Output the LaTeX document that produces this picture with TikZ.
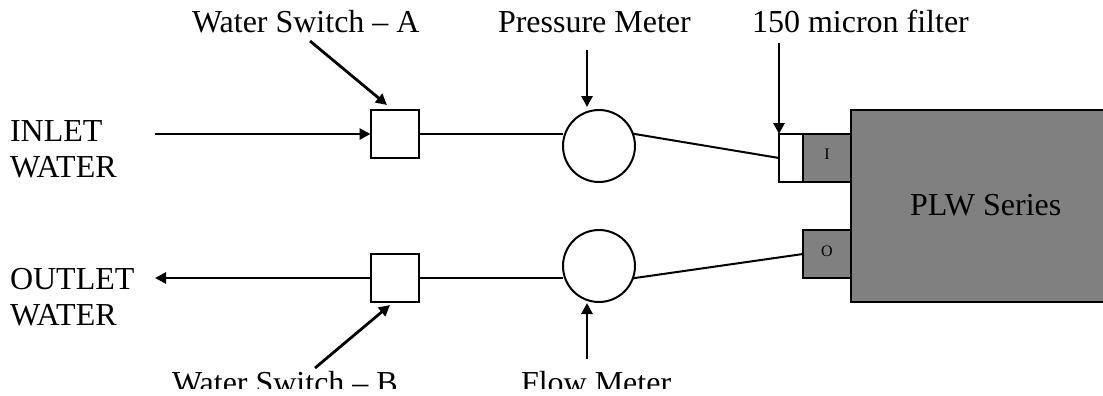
\documentclass[tikz,border=0pt]{standalone}
\usepackage{fontspec}
\setmainfont{Liberation Serif}
\usetikzlibrary{arrows.meta}
\definecolor{gray50}{RGB}{128,128,128}
\tikzset{
  every node/.style={inner sep=0pt,outer sep=0pt},
  lbl/.style={font=\fontsize{32}{38}\selectfont,anchor=base west},
  tiny/.style={font=\fontsize{16}{19}\selectfont,anchor=base},
  boxw/.style={draw=black,line width=2pt,fill=white,minimum width=48pt,minimum height=48pt},
  filt/.style={draw=black,line width=2pt,fill=white,minimum width=24pt,minimum height=48pt},
  port/.style={draw=black,line width=2pt,fill=gray50,minimum width=48pt,minimum height=48pt},
  meter/.style={draw=black,line width=2pt,fill=white,circle,minimum size=72pt},
  body/.style={draw=black,line width=2pt,fill=gray50,minimum width=269pt,minimum height=192pt},
  pipe/.style={draw=black,line width=2pt},
  arr/.style={draw=black,line width=2.8pt,-{Triangle[length=11pt,width=11pt]}}
}
\begin{document}
\begin{tikzpicture}[x=1pt,y=-1pt]
\useasboundingbox (0,0) rectangle (1103,396);
\begin{scope}
\clip (0,0) rectangle (1103,396);
\fill[white] (0,0) rectangle (1103,396);
\node[boxw] (swa) at (394.5,134) {};
\node[boxw] (swb) at (394.5,278) {};
\node[meter] (pm) at (599,146) {};
\node[meter] (fm) at (599,266) {};
\node[filt] (flt) at (791,158) {};
\node[port] (pi) at (827,158) {};
\node[port] (po) at (827,254) {};
\node[body] (plw) at (985.5,206) {};
\node[tiny] (ti) at (827,159) {I};
\node[tiny] (to) at (827,256) {O};
\node[lbl] (tb) at (910,215) {PLW Series};
\coordinate (inl) at (155,134);
\coordinate (outend) at (155,278);
\coordinate (swaT) at (310,41);
\coordinate (swaH) at (387,105);
\coordinate (swbT) at (315,368);
\coordinate (swbH) at (390,305);
\coordinate (pmT) at (587,50);
\coordinate (pmH) at (587,107);
\coordinate (fmT) at (587,359);
\coordinate (fmH) at (587,303);
\coordinate (fltT) at (779,43);
\coordinate (fltH) at (779,134);
\node[lbl] (t1) at (10,141) {INLET};
\node[lbl] (t2) at (10,177) {WATER};
\node[lbl] (t3) at (10,289) {OUTLET};
\node[lbl] (t4) at (10,325) {WATER};
\node[lbl] (t5) at (192,33) {Water Switch -- A};
\node[lbl] (t6) at (498,33) {Pressure Meter};
\node[lbl] (t7) at (752,33) {150 micron filter};
\node[lbl] (t8) at (172,393) {Water Switch -- B};
\node[lbl] (t9) at (521,393) {Flow Meter};
\fill[white] (0,389) rectangle (1103,396);
\draw[pipe] (swa.east) -- (swa.east -| pm.west);
\draw[pipe] (swb.east) -- (swb.east -| fm.west);
\draw[pipe] (pm.20) -- (flt.west);
\draw[pipe] (fm.-20) -- (po.west);
\draw[arr] (inl) -- (swa.west);
\draw[arr] (swb.west) -- (outend);
\draw[arr] (swaT) -- (swaH);
\draw[arr] (swbT) -- (swbH);
\draw[arr] (pmT) -- (pmH);
\draw[arr] (fmT) -- (fmH);
\draw[arr] (fltT) -- (fltH);
\end{scope}
\end{tikzpicture}
\end{document}
